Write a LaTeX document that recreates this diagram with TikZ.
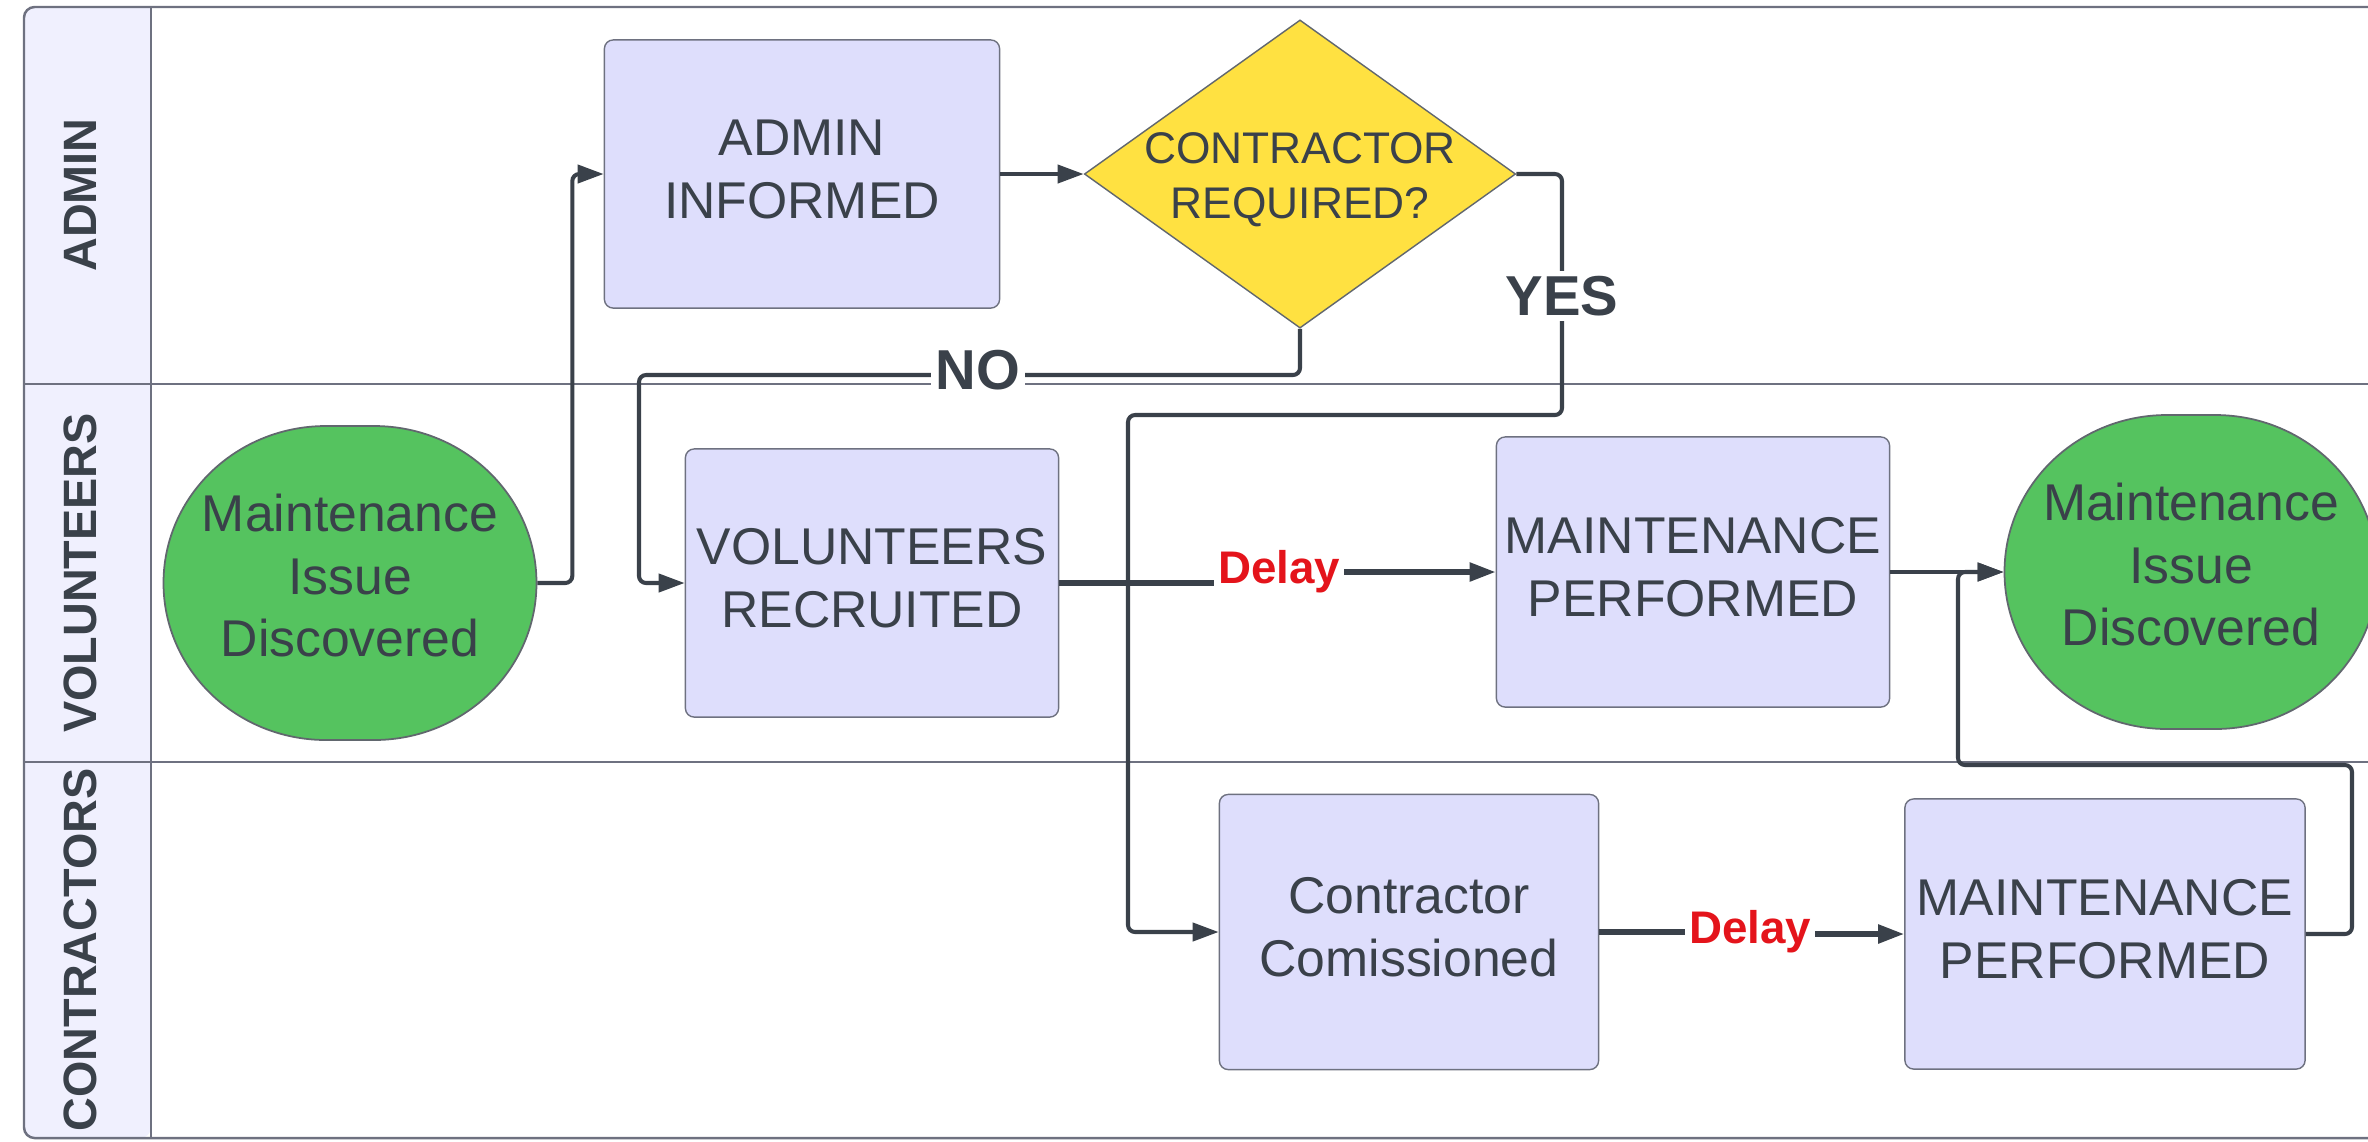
\documentclass[tikz,border=0pt]{standalone}
\usepackage{fontspec}
\setmainfont{Liberation Sans}
\usetikzlibrary{shapes.geometric}
\usetikzlibrary{arrows.meta}

\definecolor{ink}{HTML}{3A414A}
\definecolor{edge}{HTML}{6E7180}
\definecolor{lanefill}{HTML}{F0F0FE}
\definecolor{taskfill}{HTML}{DEDEFC}
\definecolor{termfill}{HTML}{55C35F}
\definecolor{decfill}{HTML}{FFE141}
\definecolor{delayred}{HTML}{E4141B}

\begin{document}
\begin{tikzpicture}[x=0.01cm,y=-0.01cm,
    laneline/.style={draw=edge,line width=0.7pt},
    lanelabel/.style={rotate=90,text=ink,inner sep=0pt,font=\bfseries\fontsize{13.3}{16}\selectfont},
    task/.style={draw=edge,fill=taskfill,rounded corners=2.5pt,text=ink,align=center,inner sep=0pt,
        text depth=0.1cm,font=\fontsize{14.7}{17.8}\selectfont},
    terminal/.style={text=ink,align=center,inner sep=0pt,text depth=0.15cm,
        font=\fontsize{14.7}{17.8}\selectfont,minimum width=3.73cm,minimum height=3.14cm},
    termshape/.style={draw=ink!80,fill=termfill,line width=0.5pt},
    decision/.style={diamond,draw=ink!80,fill=decfill,minimum width=4.31cm,minimum height=3.08cm,inner sep=0pt},
    flow/.style={draw=ink,line width=1.15pt,rounded corners=2pt,-{Triangle[length=0.26cm,width=0.18cm]}},
    delayline/.style={draw=ink,line width=1.5pt},
    answer/.style={fill=white,text=ink,inner sep=1.5pt,font=\bfseries\fontsize{16}{19}\selectfont},
    delaylabel/.style={text=delayred,inner sep=1pt,font=\bfseries\fontsize{13}{15}\selectfont}]
    \useasboundingbox (0,0) rectangle (2368,1141);
    \clip (0,0) rectangle (2368,1141);

    % swimlanes
    \fill[lanefill] (151,7) [rounded corners=3pt] -- (24,7) -- (24,1138) -- (151,1138) [sharp corners] -- cycle;
    \draw[laneline,rounded corners=3pt] (24,7) rectangle (2420,1138);
    \foreach \y in {384,762}
        \draw[laneline] (24,\y) -- (2420,\y);
    \draw[laneline] (151,7) -- (151,1138);
    \foreach \y/\lane in {195/ADMIN,573/VOLUNTEERS,950/CONTRACTORS}
        \node[lanelabel] (lane-\lane) at (80,\y) {\lane};

    % start and end shapes
    \foreach \cx/\cy in {350/583,2191/572}
        \filldraw[termshape] (\cx-24,\cy-157) -- (\cx+24,\cy-157)
            arc[start angle=-90,end angle=90,x radius=162.5,y radius=157] -- (\cx-24,\cy+157)
            arc[start angle=90,end angle=270,x radius=162.5,y radius=157] -- cycle;

    % steps
    \node[terminal] (start) at (350,583) {Maintenance\\Issue\\Discovered};
    \node[task,minimum width=3.95cm,minimum height=2.68cm] (admin) at (802,174) {ADMIN\\INFORMED};
    \node[decision] (ask) at (1300,174) {};
    \node[text=ink,align=center,yshift=-0.06cm,font=\fontsize{12.6}{15.6}\selectfont] (asktext) at (ask) {CONTRACTOR\\REQUIRED?};
    \node[task,minimum width=3.73cm,minimum height=2.68cm] (recruit) at (872,583) {VOLUNTEERS\\RECRUITED};
    \node[task,minimum width=3.93cm,minimum height=2.70cm] (volwork) at (1693,572) {MAINTENANCE\\PERFORMED};
    \node[terminal] (stop) at (2191,572) {Maintenance\\Issue\\Discovered};
    \node[task,minimum width=3.79cm,minimum height=2.75cm] (commission) at (1409,932) {Contractor\\Comissioned};
    \node[task,minimum width=4.00cm,minimum height=2.70cm] (conwork) at (2105,934) {MAINTENANCE\\PERFORMED};

    % connectors
    \draw[flow] (start.east) -- ++(35,0) |- (admin.west);
    \draw[flow] (admin.east) -- (ask.west);
    \coordinate (nobend) at (639,375);
    \draw[flow] (ask.south) |- (nobend) |- (recruit.west);
    \node[answer] (no) at (978,370) {NO};
    \coordinate (yesbend) at (1562,415);
    \coordinate (yesdrop) at (1128,415);
    \draw[flow] (ask.east) -| (yesbend) -- (yesdrop) |- (commission.west);
    \node[answer] (yes) at (1562,296) {YES};

    \node[delaylabel] (delay1) at (1279,572) {Delay};
    \draw[delayline] (recruit.east) -- (recruit.east -| delay1.west);
    \draw[flow,line width=1.5pt] (delay1.east) -- (volwork.west);
    \node[delaylabel] (delay2) at (1750,932) {Delay};
    \draw[delayline] (commission.east) -- (delay2.west);
    \draw[flow,line width=1.5pt] (delay2.east |- conwork.west) -- (conwork.west);

    \draw[flow] (volwork.east) -- (stop.west);
    \coordinate (loopup) at (2352,765);
    \coordinate (loopin) at (1958,765);
    \draw[flow] (conwork.east) -| (loopup) -- (loopin) |- (stop.west);
\end{tikzpicture}
\end{document}
